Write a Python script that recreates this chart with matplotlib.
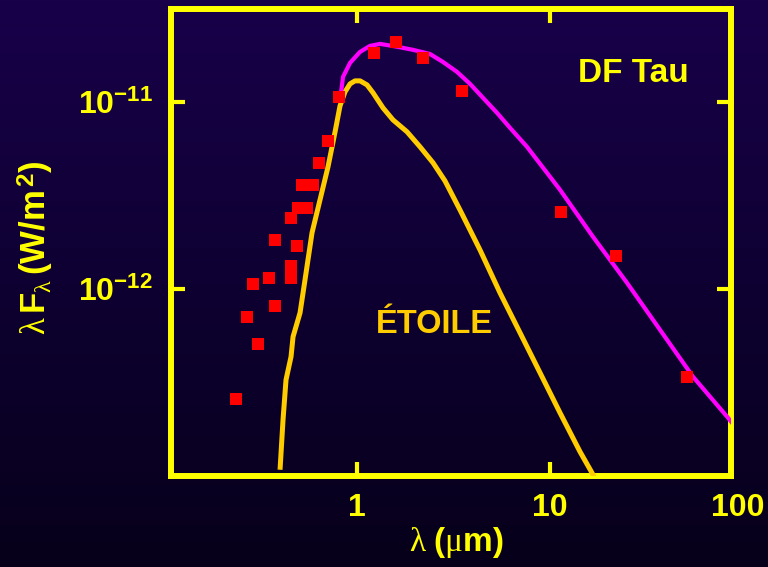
import numpy as np
import matplotlib
matplotlib.use("Agg")
import matplotlib.pyplot as plt
from matplotlib.colors import LinearSegmentedColormap
from matplotlib.transforms import offset_copy

plt.rcParams['font.family'] = ['Liberation Sans', 'DejaVu Sans']
plt.rcParams['mathtext.fontset'] = 'custom'
plt.rcParams['mathtext.rm'] = 'Liberation Serif'
plt.rcParams['mathtext.it'] = 'Liberation Serif'
plt.rcParams['mathtext.bf'] = 'Liberation Sans:bold'

# photometrie de DF Tau (lambda en micron, lambda F_lambda en W/m2)
obs_lam = [0.235, 0.269, 0.306, 0.289, 0.349, 0.375, 0.375, 0.454, 0.454,
           0.489, 0.454, 0.494, 0.551, 0.519, 0.591, 0.635, 0.708, 0.807,
           1.22, 1.59, 2.20, 3.51, 11.4, 22.1, 51.6]
obs_flux = [2.59e-13, 7.13e-13, 5.1e-13, 1.07e-12, 1.15e-12, 1.84e-12, 8.1e-13,
            1.33e-12, 1.15e-12, 1.71e-12, 2.40e-12, 2.72e-12, 2.72e-12,
            3.6e-12, 3.6e-12, 4.74e-12, 6.2e-12, 1.07e-11,
            1.84e-11, 2.10e-11, 1.73e-11, 1.15e-11, 2.59e-12, 1.51e-12, 3.39e-13]

# photosphere seule
star_lam = [0.3985, 0.413, 0.428, 0.4545, 0.4655, 0.506, 0.537, 0.584, 0.707,
            0.769, 0.816, 0.866, 0.920, 0.976, 1.037, 1.127, 1.211, 1.364,
            1.537, 1.818, 2.123, 2.480, 2.862, 3.424, 4.348, 5.522, 7.015,
            8.907, 11.31, 14.36, 16.58, 17.39]
star_flux = [1.08e-13, 2.0e-13, 3.27e-13, 4.35e-13, 5.56e-13, 7.46e-13,
             1.12e-12, 2.0e-12, 4.51e-12, 6.93e-12, 9.55e-12, 1.135e-11,
             1.253e-11, 1.30e-11, 1.30e-11, 1.237e-11, 1.122e-11, 9.32e-12,
             8.04e-12, 6.94e-12, 5.77e-12, 4.74e-12, 3.79e-12, 2.65e-12,
             1.62e-12, 9.55e-13, 5.84e-13, 3.57e-13, 2.18e-13, 1.35e-13,
             1.04e-13, 9.4e-14]

# modele etoile + disque
disk_lam = [0.826, 0.846, 0.920, 1.036, 1.168, 1.316, 1.613, 1.952, 2.392,
            2.795, 3.304, 3.859, 4.507, 5.328, 6.223, 7.624, 11.31, 16.78,
            25.18, 37.36, 55.41, 84.21, 91.5]
disk_flux = [1.122e-11, 1.365e-11, 1.622e-11, 1.857e-11, 2.0e-11, 2.05e-11,
             1.98e-11, 1.905e-11, 1.81e-11, 1.64e-11, 1.452e-11, 1.253e-11,
             1.055e-11, 8.77e-12, 7.29e-12, 5.77e-12, 3.40e-12, 1.905e-12,
             1.081e-12, 6.06e-13, 3.40e-13, 2.05e-13, 1.84e-13]

yticks = [1e-12, 1e-11]
ytick_labels = [r'$\mathbf{10^{-12}}$', r'$\mathbf{10^{-11}}$']
xticks = [1, 10]
xtick_labels = ['1', '10']

yellow = '#FFFF00'
gold = '#FFCC00'

fig = plt.figure(figsize=(7.68, 5.67), dpi=100)

# fond degrade
bg = fig.add_axes([0, 0, 1, 1], zorder=-10)
cmap = LinearSegmentedColormap.from_list('fond', ['#19004a', '#0e0032', '#07001a'])
bg.imshow(np.linspace(0, 1, 256).reshape(-1, 1), aspect='auto', cmap=cmap,
          extent=[0, 1, 0, 1])
bg.set_axis_off()

ax = fig.add_axes([0.2227, 0.1605, 0.7291, 0.8236])
ax.set_facecolor('none')
ax.set_xscale('log')
ax.set_yscale('log')
ax.set_xlim(0.1083, 87.3)
ax.set_ylim(1.0e-13, 3.15e-11)

ax.plot(star_lam, star_flux, color=gold, lw=3.6, solid_capstyle='butt',
        solid_joinstyle='round', zorder=3)
ax.plot(disk_lam, disk_flux, color='#FF00FF', lw=3.0, solid_joinstyle='round',
        zorder=3)
ax.plot(obs_lam, obs_flux, 's', color='#FF0000', ms=8.6, mew=0, zorder=4)

for s in ax.spines.values():
    s.set_color(yellow)
    s.set_linewidth(4.3)

ax.minorticks_off()
ax.tick_params(which='major', direction='in', length=10, width=3, color=yellow,
               top=True, right=True, labelcolor=yellow)
ax.set_xticks(xticks)
ax.set_xticklabels(xtick_labels, fontsize=23, fontweight='bold')
ax.tick_params(axis='x', pad=12)
ax.set_yticks(yticks)
ax.set_yticklabels(ytick_labels, fontsize=23)
ax.tick_params(axis='y', pad=13)

# graduation 100 hors du cadre
lab_tr = offset_copy(ax.get_xaxis_transform(), fig=fig, x=-5, y=-17, units='dots')
ax.text(100, 0, '100', transform=lab_tr, ha='center', va='top', fontsize=23,
        fontweight='bold', color=yellow, clip_on=False)

ax.set_xlabel(r'$\lambda\ \mathbf{(}\mu\mathbf{m)}$', fontsize=24, color=yellow)
ax.xaxis.set_label_coords(0.509, -0.105)
ax.set_ylabel(r'$\lambda\,\mathbf{F}_{\lambda}\,\mathbf{(W/m}^{\,\mathbf{2}}\mathbf{)}$',
              fontsize=25, color=yellow)
ax.yaxis.set_label_coords(-0.205, 0.49)

ax.text(633, 567 - 82, 'DF Tau', transform=None, ha='center', va='baseline',
        fontsize=24, fontweight='bold', color=yellow)
ax.text(434, 567 - 333, 'ÉTOILE', transform=None, ha='center', va='baseline',
        fontsize=23.5, fontweight='bold', color=gold)

fig.savefig('out.png', dpi=100, facecolor=fig.get_facecolor())
